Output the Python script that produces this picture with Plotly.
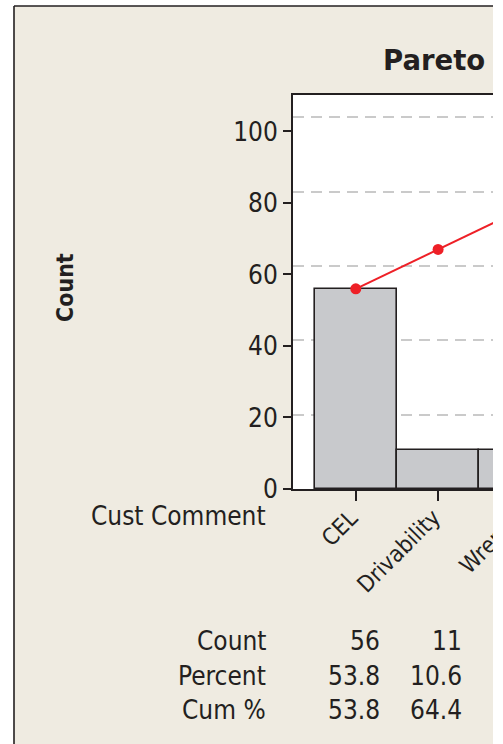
import plotly.graph_objects as go

# Pareto data: customer comments by category (leading categories)
categories = ["CEL", "Drivability", "Wrench"]
counts = [56, 11, 11]
total_comments = 104
count_ticks = [0, 20, 40, 60, 80, 100]
percent_ticks = [20, 40, 60, 80, 100]
row_labels = ["Count", "Percent", "Cum %"]

percents = [c * 100.0 / total_comments for c in counts]
cum_percents = []
running = 0
for c in counts:
    running += c
    cum_percents.append(running * 100.0 / total_comments)

# page geometry (pixels)
W, H = 493, 744
PL, PT, PB = 293, 95, 489          # plot left, top, bottom
PW, PH = W - PL, PB - PT
Y_MAX = 110.2
X0 = -0.763
X1 = X0 + PW / 82.3

FONT = "DejaVu Sans Condensed, DejaVu Sans, sans-serif"
BOLD_FONT = "DejaVu Sans, sans-serif"
INK = "#231F20"
BEIGE = "#EFEBE1"


def px_x(px):
    return (px - PL) / PW


def px_y(py):
    return (PB - py) / PH


def cat_x(i):
    return (i - X0) / (X1 - X0)


fig = go.Figure()

fig.add_trace(go.Bar(
    x=list(range(len(categories))), y=counts, width=1.0,
    marker=dict(color="#C8C9CC", line=dict(color=INK, width=1.6)),
    hoverinfo="skip", showlegend=False,
))
fig.add_trace(go.Scatter(
    x=list(range(len(categories))), y=cum_percents, yaxis="y2",
    mode="lines+markers",
    line=dict(color="#EE2027", width=2),
    marker=dict(color="#EE2027", size=11),
    hoverinfo="skip", showlegend=False,
))

annotations = []
# category labels, rotated
for i, name in enumerate(categories):
    annotations.append(dict(
        text=name, xref="paper", yref="paper",
        x=cat_x(i), y=px_y(502), xanchor="right", yanchor="top",
        xshift=10, textangle=-45, showarrow=False,
        font=dict(family=FONT, size=23, color=INK),
    ))
annotations.append(dict(
    text="Cust Comment", xref="paper", yref="paper",
    x=px_x(268), y=px_y(516), xanchor="right", yanchor="middle",
    showarrow=False, font=dict(family=FONT, size=26, color=INK),
))

# summary table under the chart (columns whose category lies inside the axis range)
rows = [
    [str(c) for c in counts],
    ["%.1f" % p for p in percents],
    ["%.1f" % p for p in cum_percents],
]
row_y = [641, 676, 710]
for label, values, ry in zip(row_labels, rows, row_y):
    annotations.append(dict(
        text=label, xref="paper", yref="paper",
        x=px_x(268), y=px_y(ry), xanchor="right", yanchor="middle",
        showarrow=False, font=dict(family=FONT, size=26, color=INK),
    ))
    for i, v in enumerate(values):
        if not (X0 <= i <= X1):
            continue
        annotations.append(dict(
            text=v, xref="paper", yref="paper",
            x=cat_x(i), y=px_y(ry), xanchor="right", yanchor="middle",
            xshift=26, showarrow=False,
            font=dict(family=FONT, size=26, color=INK),
        ))

annotations.append(dict(
    text="<b>Count</b>", xref="paper", yref="paper",
    x=px_x(65), y=px_y(288), xanchor="center", yanchor="middle",
    textangle=-90, showarrow=False,
    font=dict(family=FONT, size=23, color=INK),
))
annotations.append(dict(
    text="<b>Pareto</b>", xref="paper", yref="paper",
    x=px_x(381), y=px_y(60), xanchor="left", yanchor="middle",
    showarrow=False, font=dict(family=BOLD_FONT, size=27.5, color=INK),
))

shapes = [
    # white surround outside the graph frame
    dict(type="rect", xref="paper", yref="paper", layer="below",
         x0=px_x(0), x1=px_x(14), y0=px_y(H), y1=px_y(0),
         fillcolor="white", line=dict(width=0)),
    dict(type="rect", xref="paper", yref="paper", layer="below",
         x0=px_x(0), x1=px_x(W), y0=px_y(6), y1=px_y(0),
         fillcolor="white", line=dict(width=0)),
    # frame edges
    dict(type="line", xref="paper", yref="paper",
         x0=px_x(14), x1=px_x(14), y0=px_y(H), y1=px_y(6),
         line=dict(color=INK, width=1.6)),
    dict(type="line", xref="paper", yref="paper",
         x0=px_x(14), x1=px_x(W), y0=px_y(6), y1=px_y(6),
         line=dict(color=INK, width=1.6)),
]

fig.update_layout(
    width=W, height=H, autosize=False,
    margin=dict(l=PL, r=0, t=PT, b=H - PB, pad=0),
    paper_bgcolor=BEIGE, plot_bgcolor="white",
    font=dict(family=FONT, color=INK),
    bargap=0,
    xaxis=dict(
        range=[X0, X1], tickvals=list(range(len(categories))),
        showticklabels=False, ticks="outside", ticklen=10, tickwidth=2,
        tickcolor=INK, showline=True, linecolor=INK, linewidth=2,
        mirror=True, showgrid=False, zeroline=False, fixedrange=True,
    ),
    yaxis=dict(
        range=[0, Y_MAX], tickvals=count_ticks, ticks="outside",
        ticklen=8, tickwidth=2, tickcolor=INK, showline=True,
        linecolor=INK, linewidth=2, showgrid=False, zeroline=False,
        ticklabelstandoff=0,
        tickfont=dict(family=FONT, size=26, color=INK),
    ),
    yaxis2=dict(
        overlaying="y", side="right",
        range=[0, Y_MAX * 100.0 / total_comments],
        tickvals=percent_ticks, showticklabels=False, ticks="",
        showgrid=True, gridcolor="#CACACA", gridwidth=2,
        griddash="11px,7px", zeroline=False, showline=False,
        automargin=False,
    ),
    annotations=annotations, shapes=shapes,
)

fig.write_html("out.html", config={"displayModeBar": False})
